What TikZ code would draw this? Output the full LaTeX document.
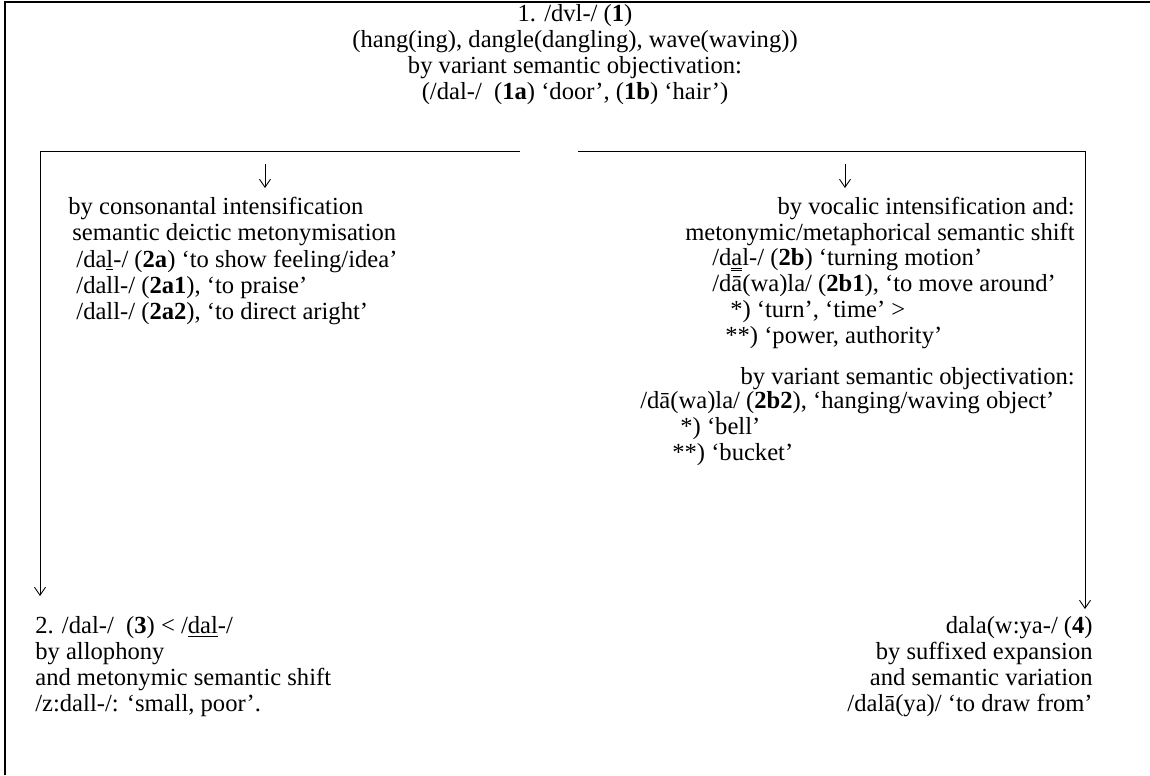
\documentclass[tikz,border=0pt]{standalone}
\usepackage{fontspec}
\setmainfont{Liberation Serif}
\usetikzlibrary{arrows.meta,positioning}
\newcommand\glossfont{\fontsize{14}{14.9}\selectfont\lineskiplimit=-5pt}
\newcommand\dunder[1]{\setbox0\hbox{#1}\rlap{\rule[-1.8pt]{\wd0}{0.35pt}}\rlap{\rule[-3.0pt]{\wd0}{0.35pt}}#1}
\tikzset{
  gloss/.style={inner sep=0pt,font=\glossfont,text=black},
  bracket/.style={line width=0.5pt,draw=black},
  downarrow/.style={-{Straight Barb[length=1.6mm,width=2.2mm]},line width=0.5pt},
  frame/.style={line width=0.9pt,draw=black}
}

\begin{document}
\begin{tikzpicture}[x=0.02cm,y=-0.02cm]
  \useasboundingbox (0,0) rectangle (1150,775);
  \draw[frame] (5,775) -- (5,2) -- (1150,2);

  \node[gloss,align=center,anchor=north] (root) at (575,4) {1. /dvl-/ (\textbf{1})\\
    (hang(ing), dangle(dangling), wave(waving))\\
    by variant semantic objectivation:\\
    (/dal-/\ \ (\textbf{1a}) ‘door’, (\textbf{1b}) ‘hair’)};

  % left branch
  \coordinate (lcorner) at (40,151);
  \coordinate (lend) at (520,151);
  \coordinate (ltip) at (40,596);
  \coordinate (lsplit) at (265,164);
  \coordinate (lsplitend) at (265,188);
  \node[gloss,align=left,anchor=north west] (cons) at (68,197) {by consonantal intensification\\
    \hspace{2.3pt}semantic deictic metonymisation\\
    \hspace{4.6pt}/da\underline{l}-/ (\textbf{2a}) ‘to show feeling/idea’\\
    \hspace{4.6pt}/dall-/ (\textbf{2a1}), ‘to praise’\\
    \hspace{4.6pt}/dall-/ (\textbf{2a2}), ‘to direct aright’};

  % right branch
  \coordinate (rend) at (578,151);
  \coordinate (rcorner) at (1085,151);
  \coordinate (rtip) at (1085,609);
  \coordinate (rsplit) at (845,164);
  \coordinate (rsplitend) at (845,188);
  \node[gloss,align=right,anchor=north east] (voc) at (1075,197) {by vocalic intensification and:\\
    metonymic/metaphorical semantic shift};
  \node[gloss,align=left,anchor=north west] (turn) at (712,248) {/d\dunder{a}l-/ (\textbf{2b}) ‘turning motion’\\
    /dā(wa)la/ (\textbf{2b1}), ‘to move around’\\
    \hspace{10.2pt}*) ‘turn’, ‘time’ >\\
    \hspace{7.4pt}**) ‘power, authority’};
  \node[gloss,align=right,anchor=north east] (obj) at (1075,367) {by variant semantic objectivation:};
  \node[gloss,align=left,anchor=north west] (bell) at (640,391) {/dā(wa)la/ (\textbf{2b2}), ‘hanging/waving object’\\
    \hspace{22.8pt}*) ‘bell’\\
    \hspace{18.2pt}**) ‘bucket’};

  % results
  \node[gloss,align=left,anchor=north west] (allo) at (35,616) {2. /dal-/\ \ (\textbf{3}) < /\underline{d}\underline{a}\underline{l}-/\\
    by allophony\\
    and metonymic semantic shift\\
    /z:dall-/: ‘small, poor’.};
  \node[gloss,align=right,anchor=north east] (suff) at (1093,616) {dala(w:ya-/ (\textbf{4})\\
    by suffixed expansion\\
    and semantic variation\\
    /dalā(ya)/ ‘to draw from’};

  \draw[bracket] (lend) -- (lcorner);
  \draw[bracket,downarrow] (lcorner) -- (ltip);
  \draw[bracket,downarrow] (lsplit) -- (lsplitend);
  \draw[bracket] (rend) -- (rcorner);
  \draw[bracket,downarrow] (rcorner) -- (rtip);
  \draw[bracket,downarrow] (rsplit) -- (rsplitend);
\end{tikzpicture}
\end{document}
